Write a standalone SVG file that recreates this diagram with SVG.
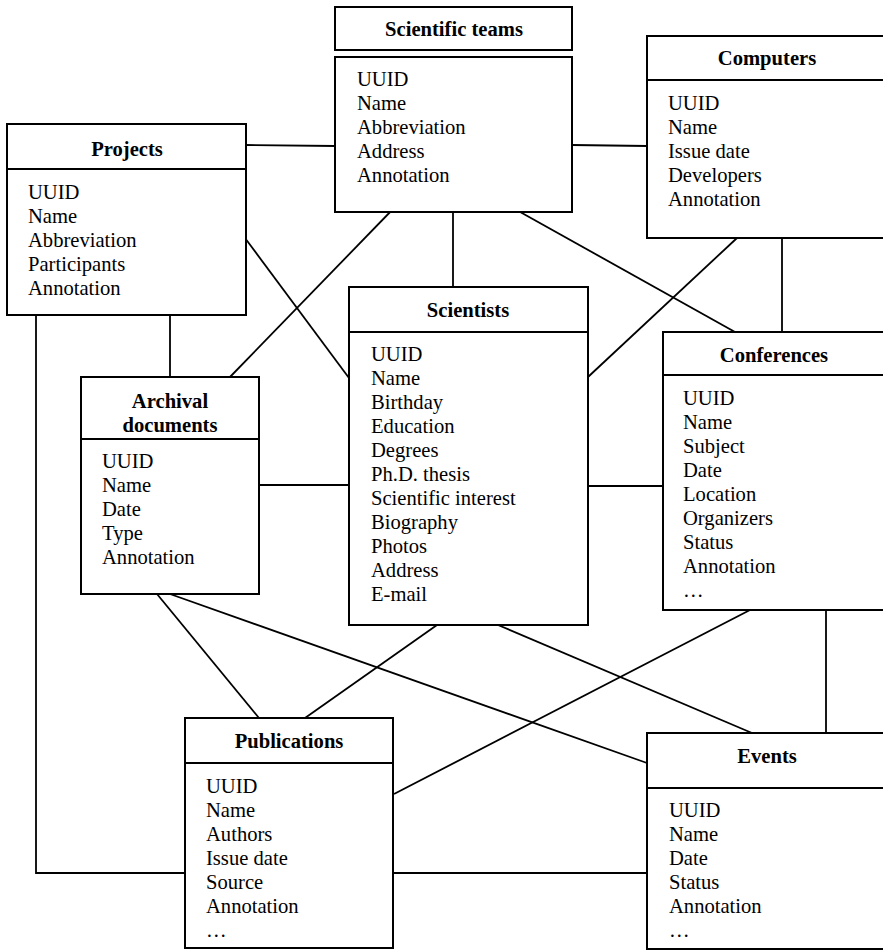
<svg xmlns="http://www.w3.org/2000/svg" width="883" height="950" viewBox="0 0 883 950">
<style>
rect{fill:#fff;stroke:#000;stroke-width:2}
.c line,.c polyline{stroke:#000;stroke-width:1.8;fill:none}
text{font-family:"Liberation Serif","Times New Roman",serif;font-size:20.6px;fill:#000}
.t{font-weight:bold;text-anchor:middle}
</style>
<g class="c" id="connectors">
<line x1="246" y1="145" x2="335" y2="146"/>
<line x1="572" y1="145" x2="647" y2="146"/>
<line x1="245" y1="238" x2="349" y2="378"/>
<line x1="170" y1="315" x2="170" y2="377"/>
<polyline points="36,315 36,873 185,873"/>
<line x1="393" y1="873" x2="647" y2="873"/>
<line x1="394" y1="208" x2="230" y2="377"/>
<line x1="453" y1="212" x2="453" y2="287"/>
<line x1="513" y1="208" x2="735" y2="332"/>
<line x1="737" y1="238" x2="588" y2="377"/>
<line x1="782" y1="238" x2="782" y2="332"/>
<line x1="259" y1="485" x2="349" y2="485"/>
<line x1="588" y1="486" x2="663" y2="486"/>
<line x1="157" y1="594" x2="259" y2="718"/>
<line x1="170" y1="594" x2="647" y2="763"/>
<line x1="437" y1="625" x2="305" y2="718"/>
<line x1="498" y1="625" x2="752" y2="733"/>
<line x1="750" y1="610" x2="394" y2="794"/>
<line x1="826" y1="610" x2="826" y2="733"/>
</g>
<g id="scientific-teams">
<rect x="335" y="7" width="237" height="43"/>
<rect x="335" y="57" width="237" height="155"/>
<text class="t" x="454" y="36">Scientific teams</text>
<text x="357" y="86">UUID</text>
<text x="357" y="110">Name</text>
<text x="357" y="134">Abbreviation</text>
<text x="357" y="158">Address</text>
<text x="357" y="182">Annotation</text>
</g>
<g id="computers">
<rect x="647" y="36" width="240" height="202"/>
<line x1="647" y1="80" x2="887" y2="80" stroke="#000" stroke-width="2"/>
<text class="t" x="767" y="65">Computers</text>
<text x="668" y="110">UUID</text>
<text x="668" y="134">Name</text>
<text x="668" y="158">Issue date</text>
<text x="668" y="182">Developers</text>
<text x="668" y="206">Annotation</text>
</g>
<g id="projects">
<rect x="7" y="124" width="239" height="191"/>
<line x1="7" y1="169" x2="246" y2="169" stroke="#000" stroke-width="2"/>
<text class="t" x="127" y="156">Projects</text>
<text x="28" y="199">UUID</text>
<text x="28" y="223">Name</text>
<text x="28" y="247">Abbreviation</text>
<text x="28" y="271">Participants</text>
<text x="28" y="295">Annotation</text>
</g>
<g id="scientists">
<rect x="349" y="287" width="239" height="338"/>
<line x1="349" y1="332" x2="588" y2="332" stroke="#000" stroke-width="2"/>
<text class="t" x="468" y="317">Scientists</text>
<text x="371" y="361">UUID</text>
<text x="371" y="385">Name</text>
<text x="371" y="409">Birthday</text>
<text x="371" y="433">Education</text>
<text x="371" y="457">Degrees</text>
<text x="371" y="481">Ph.D. thesis</text>
<text x="371" y="505">Scientific interest</text>
<text x="371" y="529">Biography</text>
<text x="371" y="553">Photos</text>
<text x="371" y="577">Address</text>
<text x="371" y="601">E-mail</text>
</g>
<g id="conferences">
<rect x="663" y="332" width="224" height="278"/>
<line x1="663" y1="375" x2="887" y2="375" stroke="#000" stroke-width="2"/>
<text class="t" x="774" y="362">Conferences</text>
<text x="683" y="405">UUID</text>
<text x="683" y="429">Name</text>
<text x="683" y="453">Subject</text>
<text x="683" y="477">Date</text>
<text x="683" y="501">Location</text>
<text x="683" y="525">Organizers</text>
<text x="683" y="549">Status</text>
<text x="683" y="573">Annotation</text>
<text x="683" y="597">…</text>
</g>
<g id="archival-documents">
<rect x="81" y="377" width="178" height="217"/>
<line x1="81" y1="439" x2="259" y2="439" stroke="#000" stroke-width="2"/>
<text class="t" x="170" y="408">Archival</text>
<text class="t" x="170" y="432">documents</text>
<text x="102" y="468">UUID</text>
<text x="102" y="492">Name</text>
<text x="102" y="516">Date</text>
<text x="102" y="540">Type</text>
<text x="102" y="564">Annotation</text>
</g>
<g id="publications">
<rect x="185" y="718" width="208" height="230"/>
<line x1="185" y1="763" x2="393" y2="763" stroke="#000" stroke-width="2"/>
<text class="t" x="289" y="748">Publications</text>
<text x="206" y="793">UUID</text>
<text x="206" y="817">Name</text>
<text x="206" y="841">Authors</text>
<text x="206" y="865">Issue date</text>
<text x="206" y="889">Source</text>
<text x="206" y="913">Annotation</text>
<text x="206" y="937">…</text>
</g>
<g id="events">
<rect x="647" y="733" width="240" height="216"/>
<line x1="647" y1="788" x2="887" y2="788" stroke="#000" stroke-width="2"/>
<text class="t" x="767" y="763">Events</text>
<text x="669" y="817">UUID</text>
<text x="669" y="841">Name</text>
<text x="669" y="865">Date</text>
<text x="669" y="889">Status</text>
<text x="669" y="913">Annotation</text>
<text x="669" y="937">…</text>
</g>
</svg>
